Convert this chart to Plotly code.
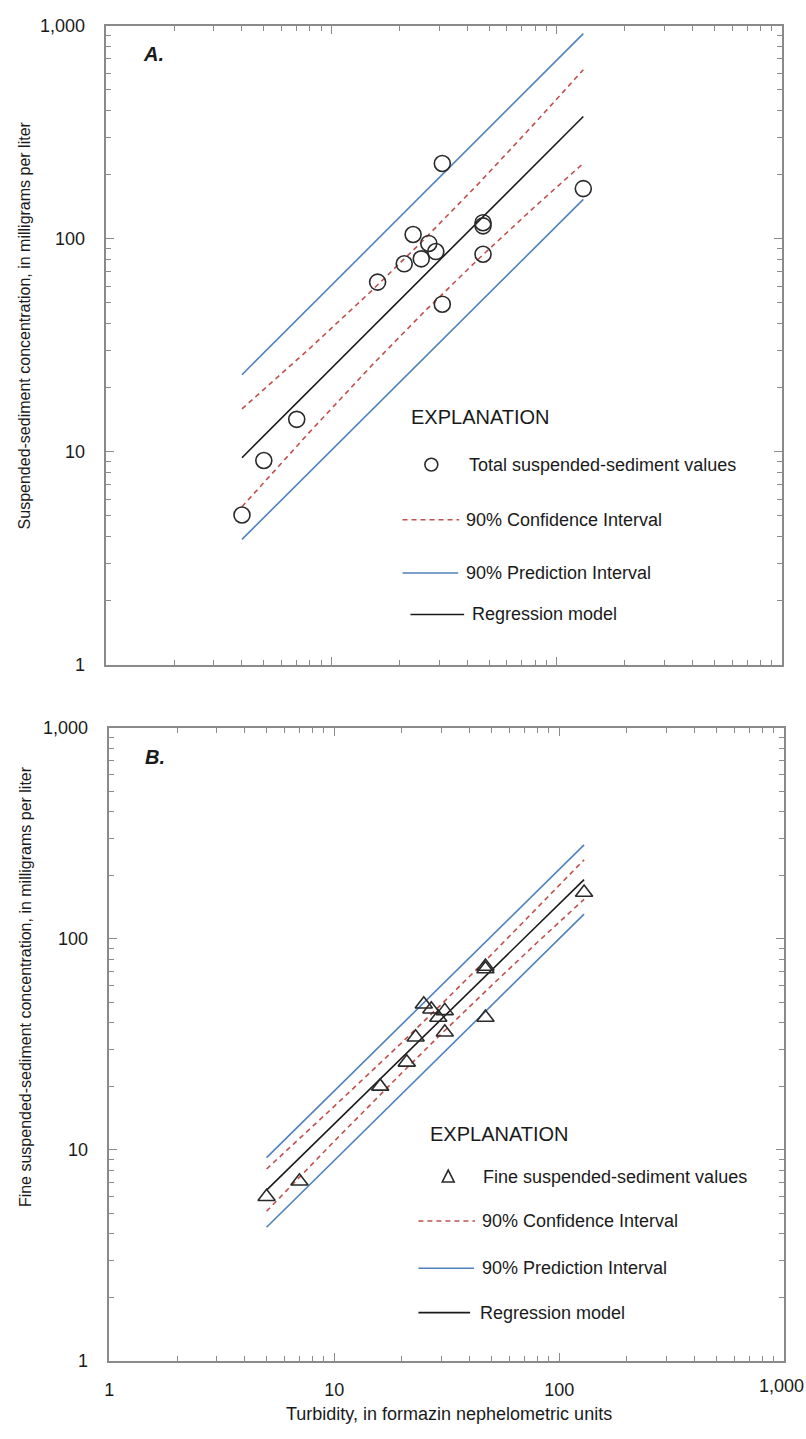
import plotly.graph_objects as go

# ---------------- Data: panel A (total suspended sediment) ----------------
turb_a = [4, 5, 7, 16, 21, 23, 25, 27, 29, 31, 31, 47, 47, 47, 131]
ssc_a = [5.05, 9.1, 14.2, 62.6, 76.3, 104.7, 80.5, 95.1, 87.1, 225.6, 49.3, 115, 119, 84.6, 172]

line_x_a = [4, 8, 15, 25, 45, 80, 131]
reg_a = [9.38, 19.5, 37.9, 65.1, 121.2, 222.7, 375]
ci_up_a = [15.9, 30.6, 56.8, 96.3, 182, 350, 622]
ci_lo_a = [5.52, 12.4, 25.3, 44.0, 80.6, 141.8, 226]
pi_x_a = [4, 131]
pi_up_a = [23.0, 918]
pi_lo_a = [3.88, 153]

# ---------------- Data: panel B (fine suspended sediment) ----------------
turb_b = [5, 7, 16, 21, 23, 25, 27, 29, 31, 31, 47, 47, 47, 129]
ssc_b = [6.0, 7.1, 20, 26, 34.2, 49, 46.4, 42.4, 45.6, 36.1, 72, 74, 42.4, 166]

line_x_b = [5, 10, 20, 30, 50, 80, 129]
reg_b = [6.45, 13.3, 27.4, 41.8, 71.2, 116.3, 191]
ci_up_b = [8.12, 16.1, 32.3, 49.1, 84.3, 140.3, 237]
ci_lo_b = [5.12, 11.0, 23.2, 35.6, 60.1, 96.4, 154]
pi_x_b = [5, 129]
pi_up_b = [9.2, 279]
pi_lo_b = [4.3, 131]

tick_vals = [1, 10, 100, 1000]
tick_text = ["1", "10", "100", "1,000"]
minor_vals = [m * d for d in (1, 10, 100) for m in range(2, 10)]

legend_a = ["Total suspended-sediment values", "90% Confidence Interval",
            "90% Prediction Interval", "Regression model"]
legend_b = ["Fine suspended-sediment values", "90% Confidence Interval",
            "90% Prediction Interval", "Regression model"]

# ---------------- Styling ----------------
W, H = 806, 1439
FONT = "Liberation Sans, Arial, sans-serif"
TXT = "#1a1a1a"
AX = "#8a8a8a"
RED = "#C0504D"
BLUE = "#4F81BD"
BLK = "#1a1a1a"
MK = "#2a2a2a"


def px(x):
    return x / W


def py(y):
    return 1 - y / H


fig = go.Figure()


def add_panel(xa, ya, lx, reg, cu, cl, pix, pu, pl, tx, ss, symbol, msize):
    fig.add_trace(go.Scatter(x=pix, y=pu, mode="lines", xaxis=xa, yaxis=ya,
                             line=dict(color=BLUE, width=1.6), showlegend=False))
    fig.add_trace(go.Scatter(x=pix, y=pl, mode="lines", xaxis=xa, yaxis=ya,
                             line=dict(color=BLUE, width=1.6), showlegend=False))
    fig.add_trace(go.Scatter(x=lx, y=cu, mode="lines", xaxis=xa, yaxis=ya,
                             line=dict(color=RED, width=1.6, dash="5px,4px"), showlegend=False))
    fig.add_trace(go.Scatter(x=lx, y=cl, mode="lines", xaxis=xa, yaxis=ya,
                             line=dict(color=RED, width=1.6, dash="5px,4px"), showlegend=False))
    fig.add_trace(go.Scatter(x=lx, y=reg, mode="lines", xaxis=xa, yaxis=ya,
                             line=dict(color=BLK, width=1.6), showlegend=False))
    fig.add_trace(go.Scatter(x=tx, y=ss, mode="markers", xaxis=xa, yaxis=ya,
                             marker=dict(symbol=symbol, size=msize,
                                         line=dict(color=MK, width=1.6), color=MK),
                             showlegend=False))


add_panel("x", "y", line_x_a, reg_a, ci_up_a, ci_lo_a, pi_x_a, pi_up_a, pi_lo_a,
          turb_a, ssc_a, "circle-open", 16)
add_panel("x2", "y2", line_x_b, reg_b, ci_up_b, ci_lo_b, pi_x_b, pi_up_b, pi_lo_b,
          turb_b, ssc_b, "triangle-up-open", 15)

axis_common = dict(type="log", range=[0, 3], showline=True, linecolor=AX, linewidth=1.6,
                   mirror="ticks", ticks="inside", ticklen=8, tickwidth=1.3, tickcolor=AX,
                   showgrid=False, zeroline=False,
                   minor=dict(tickmode="array", tickvals=minor_vals, ticks="inside", ticklen=5,
                              tickwidth=1.3, tickcolor=AX, showgrid=False),
                   tickmode="array", tickvals=tick_vals, ticktext=tick_text,
                   tickfont=dict(family=FONT, size=18, color=TXT))

fig.update_layout(
    width=W, height=H,
    margin=dict(l=0, r=0, t=0, b=0),
    paper_bgcolor="white", plot_bgcolor="white",
    font=dict(family=FONT, color=TXT),
    xaxis=dict(axis_common, domain=[px(102), px(782)], anchor="y", showticklabels=False),
    yaxis=dict(axis_common, domain=[py(664), py(16)], anchor="x", ticklabelstandoff=16),
    # last x label ("1,000") is placed as an annotation so it stays inside the page
    xaxis2=dict(axis_common, domain=[px(105), px(784)], anchor="y2", ticklabelstandoff=12,
                tickvals=tick_vals[:-1], ticktext=tick_text[:-1]),
    yaxis2=dict(axis_common, domain=[py(1370), py(728)], anchor="x2", ticklabelstandoff=16),
)

ann = []
ann.append(dict(text=tick_text[-1], x=1.0, y=py(1395), xref="paper", yref="paper",
                xanchor="right", yanchor="middle", showarrow=False,
                font=dict(size=18, family=FONT, color=TXT)))
# panel labels
ann.append(dict(text="<b><i>A.</i></b>", x=px(137), y=py(45), xref="paper", yref="paper",
                xanchor="left", yanchor="middle", showarrow=False, font=dict(size=20, family=FONT)))
ann.append(dict(text="<b><i>B.</i></b>", x=px(139), y=py(758), xref="paper", yref="paper",
                xanchor="left", yanchor="middle", showarrow=False, font=dict(size=20, family=FONT)))
# axis titles
ann.append(dict(text="Suspended-sediment concentration, in milligrams per liter",
                x=px(20), y=py(320), xref="paper", yref="paper", textangle=-90,
                xanchor="center", yanchor="middle", showarrow=False, font=dict(size=16, family=FONT)))
ann.append(dict(text="Fine suspended-sediment concentration, in milligrams per liter",
                x=px(20), y=py(990), xref="paper", yref="paper", textangle=-90,
                xanchor="center", yanchor="middle", showarrow=False, font=dict(size=16, family=FONT)))
ann.append(dict(text="Turbidity, in formazin nephelometric units",
                x=px(447), y=py(1424), xref="paper", yref="paper",
                xanchor="center", yanchor="middle", showarrow=False, font=dict(size=18, family=FONT)))

shapes = []


def legend(x_title, y_title, mx, my, marker, line_rows, text_x):
    ann.append(dict(text="EXPLANATION", x=px(x_title), y=py(y_title), xref="paper", yref="paper",
                    xanchor="left", yanchor="middle", showarrow=False, font=dict(size=20, family=FONT)))
    if marker == "circle":
        r = 6.5
        shapes.append(dict(type="circle", xref="paper", yref="paper",
                           x0=px(mx - r), x1=px(mx + r), y0=py(my + r), y1=py(my - r),
                           line=dict(color=MK, width=1.6)))
    else:
        w, h = 6, 5.5
        path = "M {},{} L {},{} L {},{} Z".format(px(mx - w), py(my + h), px(mx + w), py(my + h),
                                                  px(mx), py(my - h - 1))
        shapes.append(dict(type="path", xref="paper", yref="paper", path=path,
                           line=dict(color=MK, width=1.6)))
    for (x0, x1, y, color, dash) in line_rows:
        shapes.append(dict(type="line", xref="paper", yref="paper", x0=px(x0), x1=px(x1),
                           y0=py(y), y1=py(y), line=dict(color=color, width=1.6, dash=dash)))
    for (label, tx, y) in text_x:
        ann.append(dict(text=label, x=px(tx), y=py(y), xref="paper", yref="paper",
                        xanchor="left", yanchor="middle", showarrow=False, font=dict(size=18, family=FONT)))


legend(407, 413, 429, 461, "circle",
       [(400, 457, 517, RED, "5px,4px"),
        (400, 456, 571, BLUE, "solid"),
        (408, 462, 613, BLK, "solid")],
       [(legend_a[0], 465, 461), (legend_a[1], 462, 517), (legend_a[2], 462, 571), (legend_a[3], 468, 613)])

legend(426, 1140, 446, 1183, "triangle",
       [(416, 473, 1228, RED, "5px,4px"),
        (416, 472, 1276, BLUE, "solid"),
        (416, 468, 1321, BLK, "solid")],
       [(legend_b[0], 479, 1183), (legend_b[1], 478, 1228), (legend_b[2], 478, 1276), (legend_b[3], 476, 1321)])

fig.update_layout(annotations=ann, shapes=shapes)
fig.write_html("out.html", config={"displayModeBar": False},
               post_script="document.body.style.margin='0';document.body.style.overflow='hidden';"
                           "document.documentElement.style.overflow='hidden';")
